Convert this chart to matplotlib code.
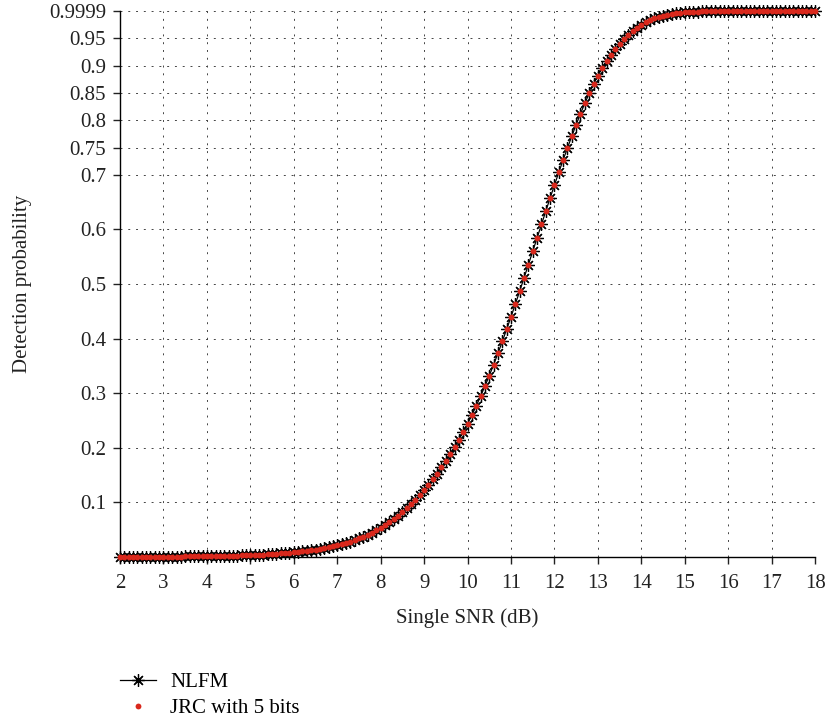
import numpy as np
import matplotlib.pyplot as plt

plt.rcParams['font.family'] = ['Liberation Serif', 'DejaVu Serif']

# single-pulse SNR in dB, 0.1 dB step
snr_db = np.round(np.arange(2.0, 18.0001, 0.1), 1)

# detection probability (one value per 0.1 dB)
pd_nlfm = [
    0.0003, 0.0003, 0.0003, 0.0004, 0.0004, 0.0004, 0.0005, 0.0005, 0.0005, 0.0006,   # 2.0-2.9
    0.0006, 0.0007, 0.0007, 0.0008, 0.0009, 0.0010, 0.0010, 0.0011, 0.0012, 0.0013,   # 3.0-3.9
    0.0015, 0.0016, 0.0017, 0.0019, 0.0021, 0.0023, 0.0025, 0.0027, 0.0029, 0.0032,   # 4.0-4.9
    0.0035, 0.0038, 0.0042, 0.0046, 0.0050, 0.0054, 0.0060, 0.0065, 0.0071, 0.0078,   # 5.0-5.9
    0.0086, 0.0095, 0.0104, 0.0114, 0.0125, 0.0137, 0.0150, 0.0164, 0.0180, 0.0197,   # 6.0-6.9
    0.0215, 0.0236, 0.0259, 0.0284, 0.0311, 0.0341, 0.0373, 0.0409, 0.0448, 0.0490,   # 7.0-7.9
    0.0536, 0.0585, 0.0639, 0.0696, 0.0758, 0.0824, 0.0895, 0.0971, 0.1051, 0.1136,   # 8.0-8.9
    0.1226, 0.1321, 0.1422, 0.1529, 0.1641, 0.1759, 0.1883, 0.2013, 0.2150, 0.2292,   # 9.0-9.9
    0.2440, 0.2600, 0.2768, 0.2945, 0.3130, 0.3322, 0.3523, 0.3732, 0.3948, 0.4170,   # 10.0-10.9
    0.4398, 0.4632, 0.4870, 0.5111, 0.5355, 0.5600, 0.5846, 0.6091, 0.6334, 0.6576,   # 11.0-11.9
    0.6814, 0.7046, 0.7274, 0.7495, 0.7710, 0.7920, 0.8120, 0.8310, 0.8490, 0.8660,   # 12.0-12.9
    0.8815, 0.8955, 0.9085, 0.9202, 0.9305, 0.9400, 0.9485, 0.9563, 0.9633, 0.9694,   # 13.0-13.9
    0.9747, 0.9792, 0.9831, 0.9864, 0.9891, 0.9914, 0.9933, 0.9948, 0.9960, 0.9969,   # 14.0-14.9
    0.9977, 0.9983, 0.9987, 0.9991, 0.9993, 0.9995, 0.9997, 0.9998, 0.9998, 0.9999,   # 15.0-15.9
    0.9999, 0.9999, 0.9999, 0.9999, 0.9999, 0.9999, 0.9999, 0.9999, 0.9999, 0.9999,   # 16.0-16.9
    0.9999, 0.9999, 0.9999, 0.9999, 0.9999, 0.9999, 0.9999, 0.9999, 0.9999, 0.9999,   # 17.0-17.9
    0.9999,                                                                            # 18.0
]
# the 5-bit JRC waveform lies on top of the NLFM curve
pd_jrc = list(pd_nlfm)

x_ticks = list(range(2, 19))
y_ticks = [0.1, 0.2, 0.3, 0.4, 0.5, 0.6, 0.7, 0.75, 0.8, 0.85, 0.9, 0.95, 0.9999]
y_tick_labels = ['0.1', '0.2', '0.3', '0.4', '0.5', '0.6', '0.7', '0.75', '0.8',
                 '0.85', '0.9', '0.95', '0.9999']

fig = plt.figure(figsize=(8.29, 7.22), dpi=100)
ax = fig.add_axes([0.1448, 0.2285, 0.8384, 0.7562])

# asterisk made of a plus and a cross
ax.plot(snr_db, pd_nlfm, color='black', linewidth=0.9, marker=(8, 2, 0),
        markersize=9, markeredgewidth=0.9, label='NLFM', clip_on=False, zorder=3)
ax.plot(snr_db, pd_jrc, linestyle='none', color='#d9281c', marker='o',
        markersize=4.2, markeredgewidth=0, label='JRC with 5 bits', clip_on=False, zorder=4)

ax.set_xlim(2, 18)
ax.set_ylim(0, 1.0)
ax.set_xticks(x_ticks)
ax.set_yticks(y_ticks)
ax.set_yticklabels(y_tick_labels)
ax.tick_params(labelsize=15, direction='out', length=5, width=1, colors='#222222')
ax.tick_params(axis='x', pad=7)
ax.tick_params(axis='y', pad=5)
ax.grid(True, color='#444444', linestyle=(0, (2, 6)), linewidth=0.7)

for side in ['top', 'right']:
    ax.spines[side].set_visible(False)
for side in ['left', 'bottom']:
    ax.spines[side].set_linewidth(1.0)

ax.set_xlabel('Single SNR (dB)', fontsize=15, labelpad=11, color='#222222')
ax.set_ylabel('Detection probability', fontsize=15, labelpad=12, color='#222222')

fig.legend(loc='upper left', bbox_to_anchor=(0.145, 0.068), frameon=False,
           fontsize=15, handlelength=1.7, handletextpad=0.7, labelspacing=0.3,
           borderpad=0, borderaxespad=0)

fig.savefig('out.png', dpi=100)
